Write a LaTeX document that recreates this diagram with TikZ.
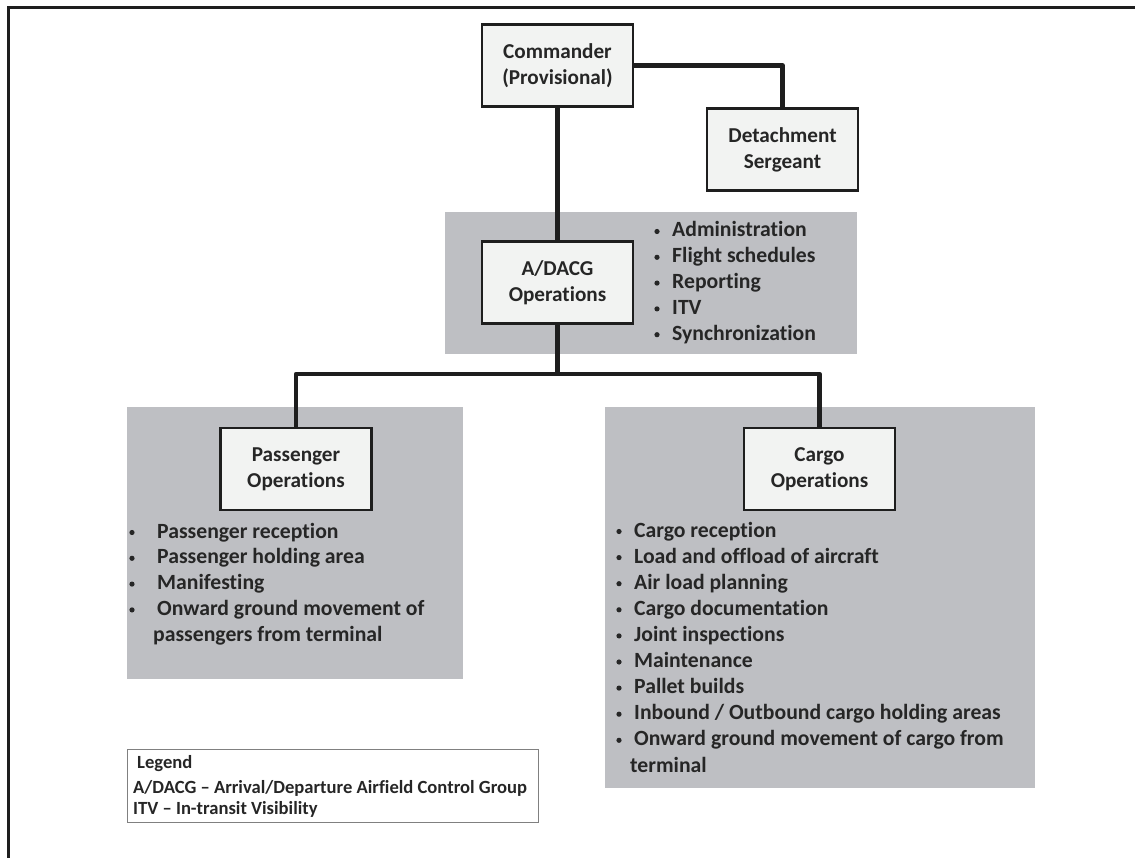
\documentclass[tikz,border=0pt]{standalone}
\usepackage{fontspec}
\setmainfont{Carlito}[Ligatures=CommonOff]
\begin{document}
\begin{tikzpicture}[x=1pt,y=-1pt,
  orgbox/.style={draw=linegray,line width=2.4pt,fill=boxfill,rectangle,
    minimum width=151pt,minimum height=82pt,inner sep=0pt,align=center,
    font=\bfseries\fontsize{21.2}{26}\selectfont,text=inkgray},
  link/.style={draw=linegray,line width=4.5pt,line join=round},
  bul/.style={circle,fill=inkgray,minimum size=5.2pt,inner sep=0pt},
  item/.style={anchor=base west,inner sep=0pt,font=\bfseries\fontsize{21.7}{26}\selectfont,text=inkgray},
  legtext/.style={anchor=base west,inner sep=0pt,font=\bfseries\fontsize{18.6}{22}\selectfont,text=inkgray}]
\definecolor{inkgray}{HTML}{262626}
\definecolor{linegray}{HTML}{1E1E1E}
\definecolor{boxfill}{HTML}{F2F3F2}
\definecolor{bandgray}{HTML}{BEBFC3}
\definecolor{legborder}{HTML}{808080}

\useasboundingbox (0,0) rectangle (1135,858);

% outer frame (top and left edges)
\draw[linegray,line width=3pt] (8,858) -- (8,8) -- (1135,8);

% shaded areas behind the units
\fill[bandgray] (445,212) rectangle (857,354);
\fill[bandgray] (127,407) rectangle (463,679);
\fill[bandgray] (605,407) rectangle (1035,788);

% unit boxes
\node[orgbox] (cmd) at (557.5,65.5) {Commander\\(Provisional)};
\node[orgbox] (det) at (782.5,149.5) {Detachment\\Sergeant};
\node[orgbox] (adacg) at (557.5,282.5) {A/DACG\\Operations};
\node[orgbox] (pax) at (296,469) {Passenger\\Operations};
\node[orgbox] (cargo) at (819.5,469) {Cargo\\Operations};

% connectors
\coordinate (bus) at (557.5,374);
\draw[link] (cmd.east) -| (det.north);
\draw[link] (cmd.south) -- (adacg.north);
\draw[link] (adacg.south) -- (bus);
\draw[link] (bus) -| (pax.north);
\draw[link] (bus) -| (cargo.north);

% A/DACG tasks
\foreach \t [count=\i] in {Administration,Flight schedules,Reporting,ITV,Synchronization}{
  \node[bul] (ab\i) at (657,{231.5+25.8*(\i-1)}) {};
  \node[item] (at\i) at (672,{237+25.8*(\i-1)}) {\t};
}

% passenger tasks
\foreach \t [count=\i] in {Passenger reception,Passenger holding area,Manifesting,Onward ground movement of}{
  \node[bul] (pb\i) at (132,{532.5+25.8*(\i-1)}) {};
  \node[item] (pt\i) at (157,{538+25.8*(\i-1)}) {\t};
}
\node[item] (pt5) at (153,641.2) {passengers from terminal};

% cargo tasks
\foreach \t [count=\i] in {Cargo reception,Load and offload of aircraft,Air load planning,Cargo documentation,Joint inspections,Maintenance,Pallet builds,Inbound / Outbound cargo holding areas,Onward ground movement of cargo from}{
  \node[bul] (cb\i) at (619,{531.5+26.1*(\i-1)}) {};
  \node[item] (ct\i) at (634,{537+26.1*(\i-1)}) {\t};
}
\node[item] (ct10) at (630,772) {terminal};

% legend
\node[draw=legborder,line width=1pt,minimum width=411pt,minimum height=73pt,inner sep=0pt] (legend) at (332.5,785.5) {};
\node[legtext] (leg1) at (137,768) {Legend};
\node[legtext] (leg2) at (133,793) {A/DACG – Arrival/Departure Airfield Control Group};
\node[legtext] (leg3) at (133,814) {ITV – In-transit Visibility};
\end{tikzpicture}
\end{document}
